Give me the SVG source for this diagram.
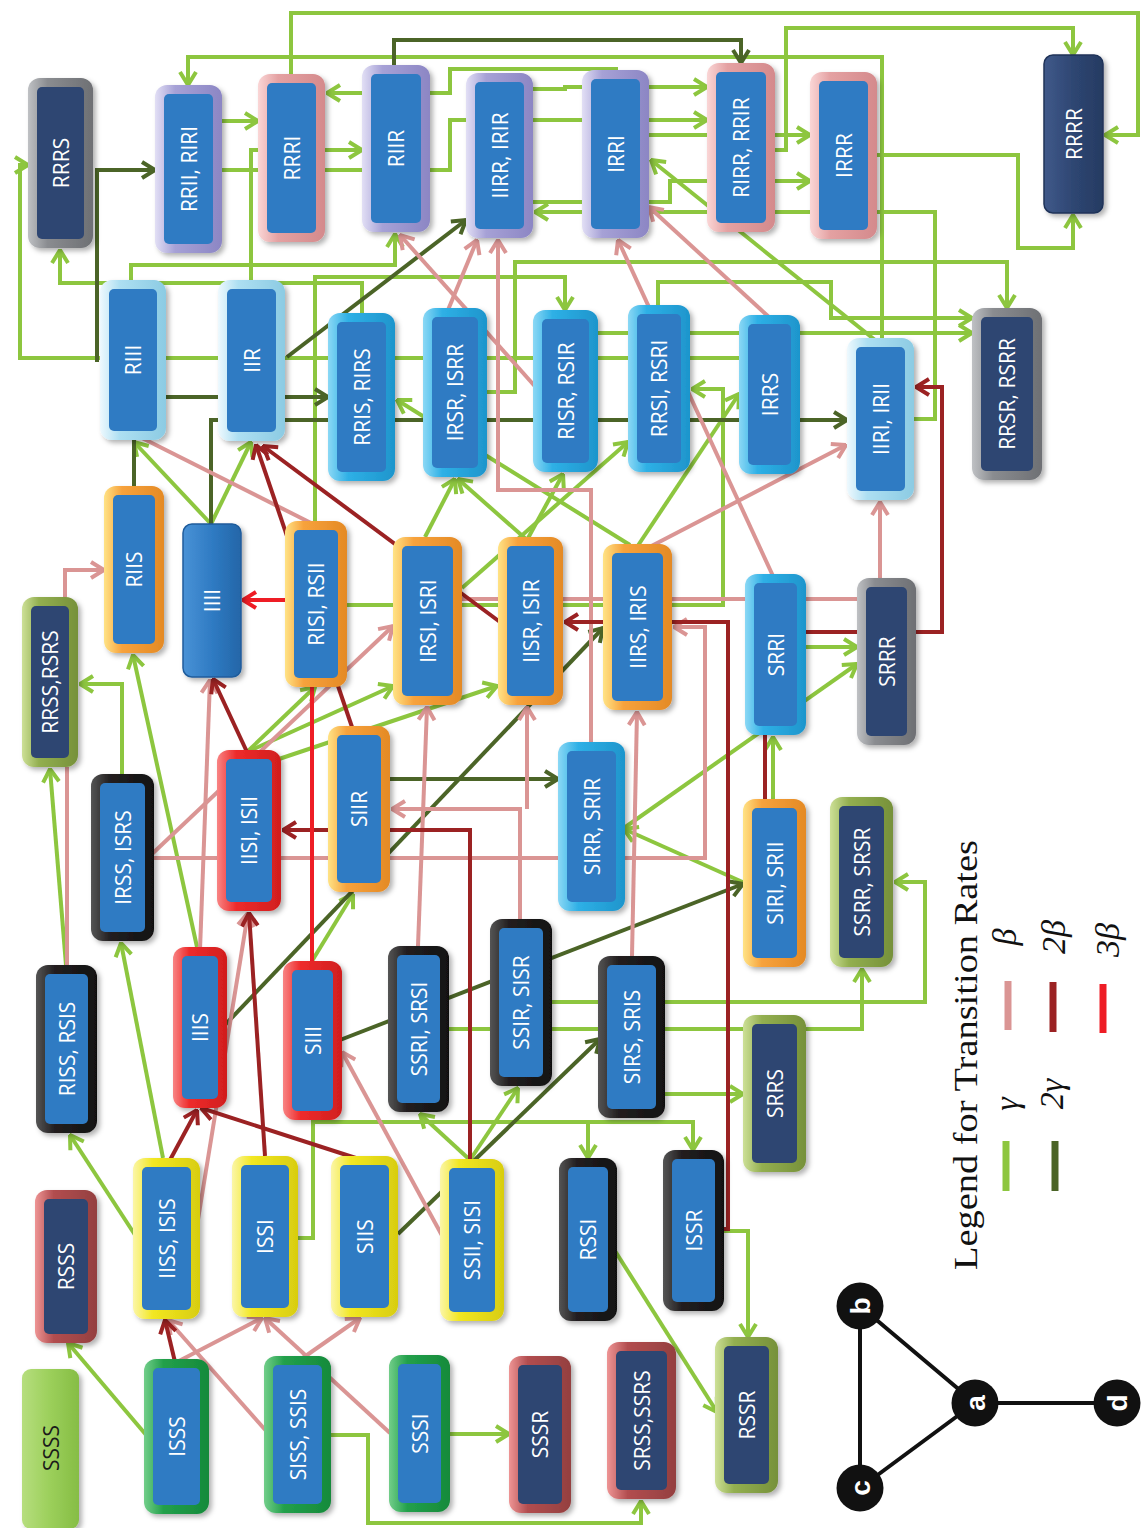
<svg xmlns="http://www.w3.org/2000/svg" width="1141" height="1528" viewBox="0 0 1141 1528">
<defs>
<style>
.c{fill:none;stroke-width:4;stroke-linejoin:miter}
.g{stroke:#8DC63F}.dg{stroke:#4B6427}.p{stroke:#DA9594}.dr{stroke:#9B2223}.r{stroke:#EE1D25}
.ag{marker-end:url(#aG)}.adg{marker-end:url(#aDG)}.ap{marker-end:url(#aP)}.adr{marker-end:url(#aDR)}.ar{marker-end:url(#aR)}
.o{filter:url(#sh)}
.ib{fill:#2F7BC3}.in{fill:#2E4672}
.lbl{font-family:"Open Sans","Noto Sans",sans-serif;font-size:21px;fill:#fff;text-anchor:middle;dominant-baseline:central}
.leg{font-family:"Liberation Serif","DejaVu Serif",serif;fill:#111}
.mi{font-family:"Liberation Serif","DejaVu Serif",serif;font-style:italic;font-size:34px;fill:#111;text-anchor:middle;dominant-baseline:central}
.gl{font-family:"Liberation Sans",Arial,sans-serif;font-weight:bold;font-size:28px;fill:#fff;text-anchor:middle;dominant-baseline:central}
</style>
<filter id="sh" x="-20%" y="-10%" width="150%" height="125%"><feDropShadow dx="3" dy="3" stdDeviation="2.5" flood-color="#000" flood-opacity="0.3"/></filter>
<marker id="aG" viewBox="0 0 16 20" refX="15" refY="10" markerWidth="16" markerHeight="20" markerUnits="userSpaceOnUse" orient="auto"><path d="M2,2 L15,10 L2,18" fill="none" stroke="#8DC63F" stroke-width="4"/></marker>
<marker id="aDG" viewBox="0 0 16 20" refX="15" refY="10" markerWidth="16" markerHeight="20" markerUnits="userSpaceOnUse" orient="auto"><path d="M2,2 L15,10 L2,18" fill="none" stroke="#4B6427" stroke-width="4"/></marker>
<marker id="aP" viewBox="0 0 16 20" refX="15" refY="10" markerWidth="16" markerHeight="20" markerUnits="userSpaceOnUse" orient="auto"><path d="M2,2 L15,10 L2,18" fill="none" stroke="#DA9594" stroke-width="4"/></marker>
<marker id="aDR" viewBox="0 0 16 20" refX="15" refY="10" markerWidth="16" markerHeight="20" markerUnits="userSpaceOnUse" orient="auto"><path d="M2,2 L15,10 L2,18" fill="none" stroke="#9B2223" stroke-width="4"/></marker>
<marker id="aR" viewBox="0 0 16 20" refX="15" refY="10" markerWidth="16" markerHeight="20" markerUnits="userSpaceOnUse" orient="auto"><path d="M2,2 L15,10 L2,18" fill="none" stroke="#EE1D25" stroke-width="4"/></marker>
<linearGradient id="gGray"><stop offset="0" stop-color="#BFC1C4"/><stop offset="0.3" stop-color="#8A8C90"/><stop offset="1" stop-color="#6E7074"/></linearGradient>
<linearGradient id="gLav"><stop offset="0" stop-color="#E2DFF5"/><stop offset="0.3" stop-color="#A6A1D6"/><stop offset="1" stop-color="#8C86C4"/></linearGradient>
<linearGradient id="gPink"><stop offset="0" stop-color="#FAD6D6"/><stop offset="0.3" stop-color="#E4A1A2"/><stop offset="1" stop-color="#D48A8C"/></linearGradient>
<linearGradient id="gLb"><stop offset="0" stop-color="#EEF9FE"/><stop offset="0.3" stop-color="#ADDFF2"/><stop offset="1" stop-color="#8CCBE3"/></linearGradient>
<linearGradient id="gCy"><stop offset="0" stop-color="#8BD8F5"/><stop offset="0.3" stop-color="#2EB0E6"/><stop offset="1" stop-color="#1E95CC"/></linearGradient>
<linearGradient id="gOr"><stop offset="0" stop-color="#FFE386"/><stop offset="0.3" stop-color="#F7A23C"/><stop offset="1" stop-color="#E48A25"/></linearGradient>
<linearGradient id="gRed"><stop offset="0" stop-color="#F88484"/><stop offset="0.3" stop-color="#EE2B2B"/><stop offset="1" stop-color="#D11E1E"/></linearGradient>
<linearGradient id="gBk"><stop offset="0" stop-color="#555"/><stop offset="0.3" stop-color="#231F20"/><stop offset="1" stop-color="#111"/></linearGradient>
<linearGradient id="gYe"><stop offset="0" stop-color="#FBF6A8"/><stop offset="0.3" stop-color="#F2E721"/><stop offset="1" stop-color="#D8CD10"/></linearGradient>
<linearGradient id="gGr"><stop offset="0" stop-color="#72CE8A"/><stop offset="0.3" stop-color="#22A04B"/><stop offset="1" stop-color="#168A3B"/></linearGradient>
<linearGradient id="gOl"><stop offset="0" stop-color="#CDE097"/><stop offset="0.3" stop-color="#93AF50"/><stop offset="1" stop-color="#76913A"/></linearGradient>
<linearGradient id="gRb"><stop offset="0" stop-color="#EE9595"/><stop offset="0.3" stop-color="#B24D4F"/><stop offset="1" stop-color="#944040"/></linearGradient>
<linearGradient id="gBl"><stop offset="0" stop-color="#4A92D6"/><stop offset="0.5" stop-color="#2F7BC3"/><stop offset="1" stop-color="#2466A8"/></linearGradient>
<linearGradient id="gNv"><stop offset="0" stop-color="#40598A"/><stop offset="0.5" stop-color="#2E4672"/><stop offset="1" stop-color="#263B62"/></linearGradient>
<linearGradient id="gSs"><stop offset="0" stop-color="#B6DE7E"/><stop offset="0.5" stop-color="#9BCF5A"/><stop offset="1" stop-color="#86BD45"/></linearGradient>
</defs>
<rect width="1141" height="1528" fill="#fff"/>

<g id="connectors">
<!-- light green (gamma) -->
<path class="c g ag" d="M291,74 V13 H1138 V135 H1105"/>
<path class="c g ag" d="M882,338 V57 H188 V85"/>
<path class="c g ag" d="M775,150 H786 V28 H1073 V55"/>
<path class="c g ag" d="M222,121 H258"/>
<path class="c g ag" d="M251,280 V150 H362"/>
<path class="c g ag" d="M222,170 H450 V120 H707"/>
<path class="c g ag" d="M616,70 V69 H450 V93 H327"/>
<path class="c g ag" d="M533,89 H565 V87 H707"/>
<path class="c g ag" d="M362,313 V283 H60 V250"/>
<path class="c g ag" d="M131,280 V265 H395 V234"/>
<path class="c g ag" d="M739,358 H20 V165 H28"/>
<path class="c g ag" d="M315,521 V277 H565 V310"/>
<path class="c g ag" d="M487,392 H515 V262 H1007 V308"/>
<path class="c g ag" d="M658,305 V282 H831 V318 H972"/>
<path class="c g ag" d="M598,333 H972"/>
<path class="c g ag" d="M649,135 H810"/>
<path class="c g ag" d="M533,202 H670 V181 H810"/>
<path class="c g ag" d="M914,419 H935 V212 H535"/>
<path class="c g ag" d="M875,340 L651,160"/>
<path class="c g ag" d="M877,155 H1018 V248 H1073 V215"/>
<path class="c g ag" d="M122,774 V684 H80"/>
<path class="c g ag" d="M66,965 L50,769"/>
<path class="c g ag" d="M147,1436 L68,1343"/>
<path class="c g ag" d="M137,1238 L70,1135"/>
<path class="c g ag" d="M163,1158 L121,943"/>
<path class="c g ag" d="M197,947 L133,655"/>
<path class="c g ag" d="M211,524 L134,442"/>
<path class="c g ag" d="M211,524 L251,442"/>
<path class="c g ag" d="M247,752 L315,687"/>
<path class="c g ag" d="M247,752 L393,686"/>
<path class="c g ag" d="M270,762 L497,686"/>
<path class="c g ag" d="M312,961 L353,894"/>
<path class="c g ag" d="M425,537 L455,479"/>
<path class="c g ag" d="M527,540 L458,479"/>
<path class="c g ag" d="M527,540 L563,474"/>
<path class="c g ag" d="M462,588 L628,442"/>
<path class="c g ag" d="M637,547 L739,394"/>
<path class="c g ag" d="M630,545 L397,400"/>
<path class="c g ag" d="M347,605 H723 V389 H692"/>
<path class="c g ag" d="M773,799 V737"/>
<path class="c g ag" d="M798,647 H857"/>
<path class="c g ag" d="M624,828 L857,664"/>
<path class="c g ag" d="M747,884 L624,829"/>
<path class="c g ag" d="M298,1238 H313 V1122 H693 V1150"/>
<path class="c g ag" d="M588,1122 V1158"/>
<path class="c g ag" d="M470,1160 L518,1088"/>
<path class="c g ag" d="M470,1160 L420,1114"/>
<path class="c g ag" d="M330,1435 H368 V1523 H641 V1501"/>
<path class="c g ag" d="M445,1434 H509"/>
<path class="c g ag" d="M610,1243 L717,1412"/>
<path class="c g ag" d="M720,1231 H748 V1337"/>
<path class="c g ag" d="M665,1094 H743"/>
<path class="c g ag" d="M449,1029 H862 V969"/>
<path class="c g ag" d="M552,1002 H925 V882 H895"/>
<!-- dark green (2 gamma) -->
<path class="c dg adg" d="M394,65 V40 H741 V63"/>
<path class="c dg adg" d="M97,362 V170 H155"/>
<path class="c dg adg" d="M287,357 L466,220"/>
<path class="c dg adg" d="M166,397 H328"/>
<path class="c dg adg" d="M211,524 V420 H847"/>
<path class="c dg" d="M134,486 V440"/>
<path class="c dg adg" d="M390,779 H558"/>
<path class="c dg adg" d="M223,1027 L603,628"/>
<path class="c dg adg" d="M340,1040 L743,884"/>
<path class="c dg adg" d="M398,1234 L600,1039"/>
<!-- pink (beta) -->
<path class="c p ap" d="M65,597 V570 H104"/>
<path class="c p" d="M67,965 V767"/>
<path class="c p" d="M315,525 L142,438"/>
<path class="c p ap" d="M200,950 L210,680"/>
<path class="c p ap" d="M195,1238 L248,913"/>
<path class="c p ap" d="M152,854 L393,626"/>
<path class="c p ap" d="M152,858 H705 V627 H674"/>
<path class="c p ap" d="M520,919 V809 H392"/>
<path class="c p ap" d="M527,809 V707"/>
<path class="c p ap" d="M418,946 L427,707"/>
<path class="c p ap" d="M632,956 L637,712"/>
<path class="c p ap" d="M462,599 H880 V502"/>
<path class="c p ap" d="M638,553 L846,445"/>
<path class="c p ap" d="M773,576 L618,240"/>
<path class="c p ap" d="M770,318 L649,207"/>
<path class="c p ap" d="M591,742 V490 H498 V240"/>
<path class="c p ap" d="M448,310 L477,240"/>
<path class="c p ap" d="M540,392 L400,235"/>
<path class="c p ap" d="M445,1241 L342,1052"/>
<path class="c p ap" d="M390,1433 L265,1318"/>
<path class="c p ap" d="M297,1362 L360,1318"/>
<path class="c p ap" d="M268,1433 L168,1320"/>
<path class="c p ap" d="M177,1362 L262,1318"/>
<!-- dark red (2 beta) -->
<path class="c dr adr" d="M352,727 L256,445"/>
<path class="c dr adr" d="M500,622 L263,446"/>
<path class="c dr adr" d="M724,1229 H728 V622 H565"/>
<path class="c dr adr" d="M765,799 V632 H942 V387 H916"/>
<path class="c dr adr" d="M470,1159 V830 H283"/>
<path class="c dr adr" d="M170,1160 L197,1110"/>
<path class="c dr adr" d="M265,1156 L249,913"/>
<path class="c dr adr" d="M362,1160 L201,1108"/>
<path class="c dr adr" d="M247,752 L213,679"/>
<path class="c dr adr" d="M175,1362 L165,1320"/>
<!-- red (3 beta) -->
<path class="c r ar" d="M285,600 H243"/>
<path class="c r" d="M312,961 V687"/>
</g>

<g id="n-RRRS"><rect class="o" x="28" y="78" width="65" height="170" rx="12" fill="url(#gGray)"/><rect class="in" x="37" y="87" width="47" height="152" rx="5"/><text class="lbl" transform="translate(60.5,163) rotate(-90)">RRRS</text></g>
<g id="n-RRII"><rect class="o" x="155" y="85" width="67" height="168" rx="12" fill="url(#gLav)"/><rect class="ib" x="164" y="94" width="49" height="150" rx="5"/><text class="lbl" transform="translate(188.5,169) rotate(-90)">RRII, RIRI</text></g>
<g id="n-RRRI"><rect class="o" x="258" y="74" width="67" height="168" rx="12" fill="url(#gPink)"/><rect class="ib" x="267" y="83" width="49" height="150" rx="5"/><text class="lbl" transform="translate(291.5,158) rotate(-90)">RRRI</text></g>
<g id="n-RIIR"><rect class="o" x="362" y="65" width="68" height="167" rx="12" fill="url(#gLav)"/><rect class="ib" x="371" y="74" width="50" height="149" rx="5"/><text class="lbl" transform="translate(396,148.5) rotate(-90)">RIIR</text></g>
<g id="n-IIRR"><rect class="o" x="466" y="73" width="67" height="165" rx="12" fill="url(#gLav)"/><rect class="ib" x="475" y="82" width="49" height="147" rx="5"/><text class="lbl" transform="translate(499.5,155.5) rotate(-90)">IIRR, IRIR</text></g>
<g id="n-IRRI"><rect class="o" x="582" y="70" width="67" height="168" rx="12" fill="url(#gLav)"/><rect class="ib" x="591" y="79" width="49" height="150" rx="5"/><text class="lbl" transform="translate(615.5,154) rotate(-90)">IRRI</text></g>
<g id="n-RIRR"><rect class="o" x="707" y="63" width="68" height="169" rx="12" fill="url(#gPink)"/><rect class="ib" x="716" y="72" width="50" height="151" rx="5"/><text class="lbl" transform="translate(741,147.5) rotate(-90)">RIRR, RRIR</text></g>
<g id="n-IRRR"><rect class="o" x="810" y="72" width="67" height="167" rx="12" fill="url(#gPink)"/><rect class="ib" x="819" y="81" width="49" height="149" rx="5"/><text class="lbl" transform="translate(843.5,155.5) rotate(-90)">IRRR</text></g>
<g id="n-RRRR"><rect class="o" x="1044" y="55" width="59" height="158" rx="9" fill="url(#gNv)" stroke="#1F3358" stroke-width="1.5"/><text class="lbl" transform="translate(1073.5,134) rotate(-90)">RRRR</text></g>

<g id="n-RIII"><rect class="o" x="100" y="280" width="66" height="160" rx="12" fill="url(#gLb)"/><rect class="ib" x="109" y="289" width="48" height="142" rx="5"/><text class="lbl" transform="translate(133,360) rotate(-90)">RIII</text></g>
<g id="n-IIR"><rect class="o" x="218" y="280" width="67" height="161" rx="12" fill="url(#gLb)"/><rect class="ib" x="227" y="289" width="49" height="143" rx="5"/><text class="lbl" transform="translate(251.5,360.5) rotate(-90)">IIR</text></g>
<g id="n-RRIS"><rect class="o" x="328" y="313" width="67" height="168" rx="12" fill="url(#gCy)"/><rect class="ib" x="337" y="322" width="49" height="150" rx="5"/><text class="lbl" transform="translate(361.5,397) rotate(-90)">RRIS, RIRS</text></g>
<g id="n-IRSR"><rect class="o" x="423" y="308" width="64" height="169" rx="12" fill="url(#gCy)"/><rect class="ib" x="432" y="317" width="46" height="151" rx="5"/><text class="lbl" transform="translate(455,392.5) rotate(-90)">IRSR, ISRR</text></g>
<g id="n-RISR"><rect class="o" x="533" y="310" width="65" height="162" rx="12" fill="url(#gCy)"/><rect class="ib" x="542" y="319" width="47" height="144" rx="5"/><text class="lbl" transform="translate(565.5,391) rotate(-90)">RISR, RSIR</text></g>
<g id="n-RRSI"><rect class="o" x="628" y="305" width="62" height="167" rx="12" fill="url(#gCy)"/><rect class="ib" x="637" y="314" width="44" height="149" rx="5"/><text class="lbl" transform="translate(659,388.5) rotate(-90)">RRSI, RSRI</text></g>
<g id="n-IRRS"><rect class="o" x="739" y="315" width="61" height="159" rx="12" fill="url(#gCy)"/><rect class="ib" x="748" y="324" width="43" height="141" rx="5"/><text class="lbl" transform="translate(769.5,394.5) rotate(-90)">IRRS</text></g>
<g id="n-IIRI"><rect class="o" x="847" y="338" width="67" height="162" rx="12" fill="url(#gLb)"/><rect class="ib" x="856" y="347" width="49" height="144" rx="5"/><text class="lbl" transform="translate(880.5,419) rotate(-90)">IIRI, IRII</text></g>
<g id="n-RRSR"><rect class="o" x="972" y="308" width="70" height="172" rx="12" fill="url(#gGray)"/><rect class="in" x="981" y="317" width="52" height="154" rx="5"/><text class="lbl" transform="translate(1007,394) rotate(-90)">RRSR, RSRR</text></g>

<g id="n-RRSS"><rect class="o" x="22" y="597" width="56" height="170" rx="12" fill="url(#gOl)"/><rect class="in" x="31" y="606" width="38" height="152" rx="5"/><text class="lbl" transform="translate(50,682) rotate(-90)">RRSS,RSRS</text></g>
<g id="n-RIIS"><rect class="o" x="104" y="486" width="60" height="167" rx="12" fill="url(#gOr)"/><rect class="ib" x="113" y="495" width="42" height="149" rx="5"/><text class="lbl" transform="translate(134,569.5) rotate(-90)">RIIS</text></g>
<g id="n-IIII"><rect class="o" x="183" y="524" width="58" height="153" rx="9" fill="url(#gBl)" stroke="#1F5C9C" stroke-width="1.5"/><text class="lbl" transform="translate(212,600.5) rotate(-90)">IIII</text></g>
<g id="n-RISI"><rect class="o" x="285" y="521" width="62" height="166" rx="12" fill="url(#gOr)"/><rect class="ib" x="294" y="530" width="44" height="148" rx="5"/><text class="lbl" transform="translate(316,604) rotate(-90)">RISI, RSII</text></g>
<g id="n-IRSI"><rect class="o" x="393" y="537" width="69" height="168" rx="12" fill="url(#gOr)"/><rect class="ib" x="402" y="546" width="51" height="150" rx="5"/><text class="lbl" transform="translate(427.5,621) rotate(-90)">IRSI, ISRI</text></g>
<g id="n-IISR"><rect class="o" x="498" y="537" width="65" height="168" rx="12" fill="url(#gOr)"/><rect class="ib" x="507" y="546" width="47" height="150" rx="5"/><text class="lbl" transform="translate(530.5,621) rotate(-90)">IISR, ISIR</text></g>
<g id="n-IIRS"><rect class="o" x="603" y="544" width="69" height="166" rx="12" fill="url(#gOr)"/><rect class="ib" x="612" y="553" width="51" height="148" rx="5"/><text class="lbl" transform="translate(637.5,627) rotate(-90)">IIRS, IRIS</text></g>
<g id="n-SRRI"><rect class="o" x="745" y="574" width="61" height="161" rx="12" fill="url(#gCy)"/><rect class="ib" x="754" y="583" width="43" height="143" rx="5"/><text class="lbl" transform="translate(775.5,654.5) rotate(-90)">SRRI</text></g>
<g id="n-SRRR"><rect class="o" x="857" y="578" width="59" height="167" rx="12" fill="url(#gGray)"/><rect class="in" x="866" y="587" width="41" height="149" rx="5"/><text class="lbl" transform="translate(886.5,661.5) rotate(-90)">SRRR</text></g>

<g id="n-IRSS"><rect class="o" x="91" y="774" width="63" height="167" rx="12" fill="url(#gBk)"/><rect class="ib" x="100" y="783" width="45" height="149" rx="5"/><text class="lbl" transform="translate(122.5,857.5) rotate(-90)">IRSS, ISRS</text></g>
<g id="n-IISI"><rect class="o" x="217" y="750" width="64" height="161" rx="12" fill="url(#gRed)"/><rect class="ib" x="226" y="759" width="46" height="143" rx="5"/><text class="lbl" transform="translate(249,830.5) rotate(-90)">IISI, ISII</text></g>
<g id="n-SIIR"><rect class="o" x="328" y="726" width="62" height="166" rx="12" fill="url(#gOr)"/><rect class="ib" x="337" y="735" width="44" height="148" rx="5"/><text class="lbl" transform="translate(359,809) rotate(-90)">SIIR</text></g>
<g id="n-SIRR"><rect class="o" x="558" y="742" width="67" height="169" rx="12" fill="url(#gCy)"/><rect class="ib" x="567" y="751" width="49" height="151" rx="5"/><text class="lbl" transform="translate(591.5,826.5) rotate(-90)">SIRR, SRIR</text></g>
<g id="n-SIRI"><rect class="o" x="743" y="799" width="63" height="168" rx="12" fill="url(#gOr)"/><rect class="ib" x="752" y="808" width="45" height="150" rx="5"/><text class="lbl" transform="translate(774.5,883) rotate(-90)">SIRI, SRII</text></g>
<g id="n-SSRR"><rect class="o" x="830" y="797" width="63" height="170" rx="12" fill="url(#gOl)"/><rect class="in" x="839" y="806" width="45" height="152" rx="5"/><text class="lbl" transform="translate(861.5,882) rotate(-90)">SSRR, SRSR</text></g>

<g id="n-RISS"><rect class="o" x="36" y="965" width="61" height="168" rx="12" fill="url(#gBk)"/><rect class="ib" x="45" y="974" width="43" height="150" rx="5"/><text class="lbl" transform="translate(66.5,1049) rotate(-90)">RISS, RSIS</text></g>
<g id="n-IIIS"><rect class="o" x="173" y="947" width="54" height="161" rx="12" fill="url(#gRed)"/><rect class="ib" x="182" y="956" width="36" height="143" rx="5"/><text class="lbl" transform="translate(200,1027.5) rotate(-90)">IIIS</text></g>
<g id="n-SIII"><rect class="o" x="283" y="961" width="59" height="159" rx="12" fill="url(#gRed)"/><rect class="ib" x="292" y="970" width="41" height="141" rx="5"/><text class="lbl" transform="translate(312.5,1040.5) rotate(-90)">SIII</text></g>
<g id="n-SSRI"><rect class="o" x="388" y="946" width="61" height="166" rx="12" fill="url(#gBk)"/><rect class="ib" x="397" y="955" width="43" height="148" rx="5"/><text class="lbl" transform="translate(418.5,1029) rotate(-90)">SSRI, SRSI</text></g>
<g id="n-SSIR"><rect class="o" x="490" y="919" width="62" height="167" rx="12" fill="url(#gBk)"/><rect class="ib" x="499" y="928" width="44" height="149" rx="5"/><text class="lbl" transform="translate(521,1002.5) rotate(-90)">SSIR, SISR</text></g>
<g id="n-SIRS"><rect class="o" x="598" y="956" width="67" height="162" rx="12" fill="url(#gBk)"/><rect class="ib" x="607" y="965" width="49" height="144" rx="5"/><text class="lbl" transform="translate(631.5,1037) rotate(-90)">SIRS, SRIS</text></g>
<g id="n-SRRS"><rect class="o" x="743" y="1015" width="63" height="157" rx="12" fill="url(#gOl)"/><rect class="in" x="752" y="1024" width="45" height="139" rx="5"/><text class="lbl" transform="translate(774.5,1093.5) rotate(-90)">SRRS</text></g>

<g id="n-RSSS"><rect class="o" x="35" y="1190" width="62" height="153" rx="12" fill="url(#gRb)"/><rect class="in" x="44" y="1199" width="44" height="135" rx="5"/><text class="lbl" transform="translate(66,1266.5) rotate(-90)">RSSS</text></g>
<g id="n-IISS"><rect class="o" x="133" y="1158" width="67" height="161" rx="12" fill="url(#gYe)"/><rect class="ib" x="142" y="1167" width="49" height="143" rx="5"/><text class="lbl" transform="translate(166.5,1238.5) rotate(-90)">IISS, ISIS</text></g>
<g id="n-ISSI"><rect class="o" x="232" y="1156" width="66" height="161" rx="12" fill="url(#gYe)"/><rect class="ib" x="241" y="1165" width="48" height="143" rx="5"/><text class="lbl" transform="translate(265,1236.5) rotate(-90)">ISSI</text></g>
<g id="n-SIIS"><rect class="o" x="331" y="1156" width="67" height="161" rx="12" fill="url(#gYe)"/><rect class="ib" x="340" y="1165" width="49" height="143" rx="5"/><text class="lbl" transform="translate(364.5,1236.5) rotate(-90)">SIIS</text></g>
<g id="n-SSII"><rect class="o" x="440" y="1159" width="64" height="162" rx="12" fill="url(#gYe)"/><rect class="ib" x="449" y="1168" width="46" height="144" rx="5"/><text class="lbl" transform="translate(472,1240) rotate(-90)">SSII, SISI</text></g>
<g id="n-RSSI"><rect class="o" x="559" y="1158" width="58" height="163" rx="12" fill="url(#gBk)"/><rect class="ib" x="568" y="1167" width="40" height="145" rx="5"/><text class="lbl" transform="translate(588,1239.5) rotate(-90)">RSSI</text></g>
<g id="n-ISSR"><rect class="o" x="663" y="1150" width="61" height="161" rx="12" fill="url(#gBk)"/><rect class="ib" x="672" y="1159" width="43" height="143" rx="5"/><text class="lbl" transform="translate(693.5,1230.5) rotate(-90)">ISSR</text></g>

<g id="n-SSSS"><rect class="o" x="22" y="1369" width="57" height="160" rx="9" fill="url(#gSs)"/><text class="lbl" style="fill:#1a1a1a" transform="translate(50.5,1448) rotate(-90)">SSSS</text></g>
<g id="n-ISSS"><rect class="o" x="144" y="1359" width="65" height="155" rx="12" fill="url(#gGr)"/><rect class="ib" x="153" y="1368" width="47" height="137" rx="5"/><text class="lbl" transform="translate(176.5,1436.5) rotate(-90)">ISSS</text></g>
<g id="n-SISS"><rect class="o" x="264" y="1356" width="67" height="157" rx="12" fill="url(#gGr)"/><rect class="ib" x="273" y="1365" width="49" height="139" rx="5"/><text class="lbl" transform="translate(297.5,1434.5) rotate(-90)">SISS, SSIS</text></g>
<g id="n-SSSI"><rect class="o" x="389" y="1355" width="61" height="157" rx="12" fill="url(#gGr)"/><rect class="ib" x="398" y="1364" width="43" height="139" rx="5"/><text class="lbl" transform="translate(419.5,1433.5) rotate(-90)">SSSI</text></g>
<g id="n-SSSR"><rect class="o" x="509" y="1356" width="62" height="157" rx="12" fill="url(#gRb)"/><rect class="in" x="518" y="1365" width="44" height="139" rx="5"/><text class="lbl" transform="translate(540,1434.5) rotate(-90)">SSSR</text></g>
<g id="n-SRSS"><rect class="o" x="607" y="1342" width="69" height="157" rx="12" fill="url(#gRb)"/><rect class="in" x="616" y="1351" width="51" height="139" rx="5"/><text class="lbl" transform="translate(641.5,1420.5) rotate(-90)">SRSS,SSRS</text></g>
<g id="n-RSSR"><rect class="o" x="715" y="1337" width="63" height="156" rx="12" fill="url(#gOl)"/><rect class="in" x="724" y="1346" width="45" height="138" rx="5"/><text class="lbl" transform="translate(746.5,1415) rotate(-90)">RSSR</text></g>

<g id="legend">
<text class="leg" font-size="34" transform="translate(977,1270) rotate(-90)" textLength="430" lengthAdjust="spacingAndGlyphs">Legend for Transition Rates</text>
<line x1="1006" y1="1141" x2="1006" y2="1191" stroke="#8DC63F" stroke-width="7"/>
<text class="mi" transform="translate(1006,1104) rotate(-90)">γ</text>
<line x1="1008" y1="981" x2="1008" y2="1030" stroke="#DA9594" stroke-width="7"/>
<text class="mi" transform="translate(1004,937) rotate(-90)">β</text>
<line x1="1055" y1="1141" x2="1055" y2="1191" stroke="#4B6427" stroke-width="7"/>
<text class="mi" transform="translate(1051,1094) rotate(-90)">2γ</text>
<line x1="1053" y1="982" x2="1053" y2="1032" stroke="#9B2223" stroke-width="7"/>
<text class="mi" transform="translate(1053,937) rotate(-90)">2β</text>
<line x1="1103" y1="984" x2="1103" y2="1033" stroke="#EE1D25" stroke-width="7"/>
<text class="mi" transform="translate(1107,940) rotate(-90)">3β</text>
</g>

<g id="graph">
<g stroke="#111" stroke-width="4">
<line x1="860" y1="1306" x2="860" y2="1488"/>
<line x1="860" y1="1306" x2="975" y2="1403"/>
<line x1="860" y1="1488" x2="975" y2="1403"/>
<line x1="975" y1="1403" x2="1117" y2="1403"/>
</g>
<g id="g-b"><circle cx="860" cy="1306" r="23.5" fill="#111"/><text class="gl" transform="translate(860,1306) rotate(-90)">b</text></g>
<g id="g-a"><circle cx="975" cy="1403" r="23.5" fill="#111"/><text class="gl" transform="translate(975,1403) rotate(-90)">a</text></g>
<g id="g-c"><circle cx="860" cy="1488" r="23.5" fill="#111"/><text class="gl" transform="translate(860,1488) rotate(-90)">c</text></g>
<g id="g-d"><circle cx="1117" cy="1403" r="23.5" fill="#111"/><text class="gl" transform="translate(1117,1403) rotate(-90)">d</text></g>
</g>
</svg>
